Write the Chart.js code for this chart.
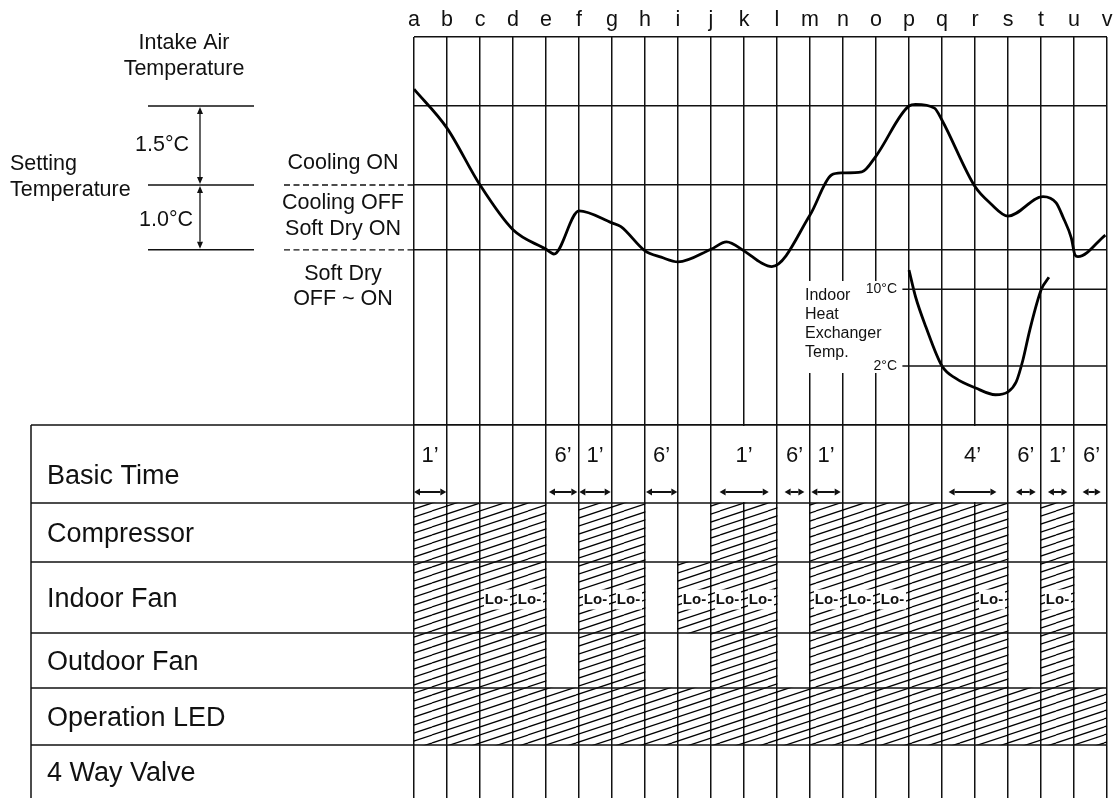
<!DOCTYPE html>
<html>
<head>
<meta charset="utf-8">
<title>Soft Dry operation timing chart</title>
<script src="https://cdn.jsdelivr.net/npm/chart.js@4.4.1/dist/chart.umd.min.js"></script>
<style>
  html, body { margin: 0; padding: 0; background: #fff; }
  #wrap { position: relative; width: 1119px; height: 798px; overflow: hidden; }
  canvas { position: absolute; left: 0; }
  #topChart { top: 0; }
  #tableChart { top: 423px; }
</style>
</head>
<body>
<div id="wrap">
  <canvas id="topChart" width="1119" height="425"></canvas>
  <canvas id="tableChart" width="1119" height="375"></canvas>
</div>
<script>
const FONT = '"Liberation Sans", Arial, Helvetica, sans-serif';
const INK = '#111';

// time marks along the top (one grid line each)
const timeMarks = ['a','b','c','d','e','f','g','h','i','j','k','l','m','n','o','p','q','r','s','t','u','v'];

// intake air temperature relative to the setting temperature
// (the source draws the 1.0°C band a bit taller than the 1.5°C one, so the lower line sits at -1.23)
const intakeX = [0, 1.0, 2.0, 3.0, 4.0, 4.24, 5.0, 6.0, 6.27, 7.0, 7.49, 8.0, 9.0, 9.47, 10.0, 10.53, 10.84,
                 12.0, 12.65, 12.96, 13.57, 14.0, 15.0, 15.2, 15.77, 16.0, 17.0, 17.47, 18.0, 19.06, 19.46,
                 19.66, 19.92, 20.03, 20.12, 20.95];
const intakeY = [1.82, 1.08, 0, -0.85, -1.22, -1.31, -0.49, -0.72, -0.79, -1.25, -1.37, -1.46, -1.22, -1.08, -1.25, -1.48, -1.55,
                 -0.57, 0.19, 0.23, 0.25, 0.55, 1.5, 1.53, 1.46, 1.23, -0.03, -0.35, -0.59, -0.22, -0.34,
                 -0.6, -1.01, -1.33, -1.36, -0.95];
const intakeLevels = [1.5, 0, -1.23];

// indoor heat exchanger temperature, °C
const hxX = [15.0, 15.2, 15.51, 16.0, 16.42, 17.02, 17.62, 18.0, 18.25, 18.45, 18.66, 19.01, 19.24];
const hxY = [12.0, 9.2, 6.1, 2.0, 0.7, -0.3, -1.0, -0.7, 0.35, 2.6, 5.75, 10.0, 11.25];
const hxLevels = [10, 2];
const hxLevelLabels = ['10°C', '2°C'];

// table rows, one value per time slot (a-b ... u-v): 0 = off, 1 = on, 2 = on at Lo- speed
const rowLabels = ['Basic Time', 'Compressor', 'Indoor Fan', 'Outdoor Fan', 'Operation LED', '4 Way Valve'];
const compressor   = [1,1,1,1,0,1,1,0,0,1,1,0,1,1,1,1,1,1,0,1,0];
const indoorFan    = [1,1,2,2,0,2,2,0,2,2,2,0,2,2,2,1,1,2,0,2,0];
const outdoorFan   = [1,1,1,1,0,1,1,0,0,1,1,0,1,1,1,1,1,1,0,1,0];
const operationLed = [1,1,1,1,1,1,1,1,1,1,1,1,1,1,1,1,1,1,1,1,1];
const fourWayValve = [0,0,0,0,0,0,0,0,0,0,0,0,0,0,0,0,0,0,0,0,0];

// basic time spans
const basicTimeFrom = [0, 4.09, 5.01, 7.03, 9.26, 11.23, 12.04, 16.2, 18.24, 19.21, 20.26];
const basicTimeTo   = [0.98, 4.95, 5.96, 7.98, 10.75, 11.83, 12.93, 17.65, 18.84, 19.8, 20.81];
const basicTimeText = ['1’', '6’', '1’', '6’', '1’', '6’', '1’', '4’', '6’', '1’', '6’'];

// layout
const ROW_HEIGHTS = [78, 59, 71, 55, 57, 53];
const rowEdges = ROW_HEIGHTS.reduce((acc, h) => { acc.push(acc[acc.length - 1] + h); return acc; }, [0]);
const HX_LINE_FROM = 14.8;

function text(ctx, str, x, y, size, align, weight) {
    ctx.font = (weight || '') + ' ' + size + 'px ' + FONT;
    ctx.textAlign = align || 'center';
    ctx.textBaseline = 'middle';
    ctx.fillText(str, x, y);
}

function hArrow(ctx, x1, x2, y) {
    const h = 6, w = 3.5;
    ctx.beginPath();
    ctx.moveTo(x1 + h, y); ctx.lineTo(x2 - h, y);
    ctx.stroke();
    ctx.beginPath();
    ctx.moveTo(x1, y); ctx.lineTo(x1 + h, y - w); ctx.lineTo(x1 + h, y + w); ctx.closePath();
    ctx.moveTo(x2, y); ctx.lineTo(x2 - h, y - w); ctx.lineTo(x2 - h, y + w); ctx.closePath();
    ctx.fill();
}

function vArrow(ctx, x, y1, y2) {
    const h = 7, w = 3;
    ctx.beginPath();
    ctx.moveTo(x, y1 + h); ctx.lineTo(x, y2 - h);
    ctx.stroke();
    ctx.beginPath();
    ctx.moveTo(x, y1); ctx.lineTo(x - w, y1 + h); ctx.lineTo(x + w, y1 + h); ctx.closePath();
    ctx.moveTo(x, y2); ctx.lineTo(x - w, y2 - h); ctx.lineTo(x + w, y2 - h); ctx.closePath();
    ctx.fill();
}

// labels, side scale and notes around the temperature graph
const topDecorations = {
    id: 'topDecorations',
    afterDatasetsDraw(chart) {
        const { ctx, chartArea, scales: { x, yT, yH } } = chart;
        ctx.save();
        ctx.fillStyle = INK;
        ctx.strokeStyle = INK;

        // time marks
        ctx.font = '21.5px ' + FONT;
        ctx.textAlign = 'center';
        ctx.textBaseline = 'alphabetic';
        timeMarks.forEach((m, i) => ctx.fillText(m, x.getPixelForValue(i), 26));

        const yUp = yT.getPixelForValue(intakeLevels[0]);
        const ySet = yT.getPixelForValue(intakeLevels[1]);
        const yLow = yT.getPixelForValue(intakeLevels[2]);

        text(ctx, 'Intake Air', 184, 43, 21.5);
        text(ctx, 'Temperature', 184, 69, 21.5);

        // side scale
        ctx.lineWidth = 1.5;
        [yUp, ySet, yLow].forEach(y => {
            ctx.beginPath(); ctx.moveTo(148, y); ctx.lineTo(254, y); ctx.stroke();
        });
        ctx.lineWidth = 1.3;
        vArrow(ctx, 200, yUp + 1, ySet - 1);
        vArrow(ctx, 200, ySet + 1, yLow - 1);
        text(ctx, '1.5°C', 189, (yUp + ySet) / 2, 21.5, 'right');
        text(ctx, '1.0°C', 193, (ySet + yLow) / 2 + 3, 21.5, 'right');
        text(ctx, 'Setting', 10, ySet - 21, 21.5, 'left');
        text(ctx, 'Temperature', 10, ySet + 5, 21.5, 'left');

        // mode zones
        ctx.lineWidth = 1.3;
        ctx.setLineDash([6, 3.5]);
        [ySet, yLow].forEach(y => {
            ctx.beginPath(); ctx.moveTo(284, y); ctx.lineTo(chartArea.left, y); ctx.stroke();
        });
        ctx.setLineDash([]);
        text(ctx, 'Cooling ON', 343, ySet - 22, 21.5);
        text(ctx, 'Cooling OFF', 343, ySet + 18, 21.5);
        text(ctx, 'Soft Dry ON', 343, ySet + 44, 21.5);
        text(ctx, 'Soft Dry', 343, yLow + 24, 21.5);
        text(ctx, 'OFF ~ ON', 343, yLow + 49, 21.5);

        // heat exchanger note on a white card that breaks the grid
        ctx.fillStyle = '#fff';
        ctx.fillRect(798, 281, 102, 92);
        ctx.fillStyle = INK;
        text(ctx, 'Indoor', 805, 296, 16, 'left');
        text(ctx, 'Heat', 805, 315, 16, 'left');
        text(ctx, 'Exchanger', 805, 334, 16, 'left');
        text(ctx, 'Temp.', 805, 353, 16, 'left');
        ctx.lineWidth = 1.5;
        hxLevels.forEach((v, i) => {
            const y = yH.getPixelForValue(v);
            ctx.beginPath(); ctx.moveTo(x.getPixelForValue(HX_LINE_FROM), y); ctx.lineTo(chartArea.right, y); ctx.stroke();
            text(ctx, hxLevelLabels[i], 897, y, 14, 'right');
        });
        ctx.restore();
    }
};

const gridStyle = { color: INK, lineWidth: 1.5, drawTicks: false };

new Chart(document.getElementById('topChart'), {
    type: 'line',
    data: {
        datasets: [{
            label: 'Intake Air Temperature',
            data: intakeX.map((v, i) => ({ x: v, y: intakeY[i] })),
            yAxisID: 'yT',
            borderColor: '#000',
            borderWidth: 2.8,
            pointRadius: 0,
            cubicInterpolationMode: 'monotone'
        }, {
            label: 'Indoor Heat Exchanger Temp.',
            data: hxX.map((v, i) => ({ x: v, y: hxY[i] })),
            yAxisID: 'yH',
            borderColor: '#000',
            borderWidth: 2.8,
            pointRadius: 0,
            cubicInterpolationMode: 'monotone'
        }]
    },
    options: {
        responsive: false,
        animation: false,
        devicePixelRatio: 1,
        layout: { padding: { left: 414, right: 12, top: 37, bottom: 0 } },
        plugins: { legend: { display: false }, tooltip: { enabled: false } },
        scales: {
            x: {
                type: 'linear', min: 0, max: timeMarks.length - 1,
                ticks: { display: false, stepSize: 1 },
                grid: gridStyle,
                border: { display: false }
            },
            yT: {
                type: 'linear', position: 'left', min: -4.557, max: 2.81,
                ticks: { display: false },
                grid: gridStyle,
                border: { display: false },
                afterBuildTicks: s => { s.ticks = [s.max, ...intakeLevels, s.min].map(v => ({ value: v })); }
            },
            yH: { type: 'linear', position: 'right', min: -4.16, max: 36.34, display: false }
        }
    },
    plugins: [topDecorations]
});

// ---- operation table ----
const tableCanvas = document.getElementById('tableChart');

// rising diagonal hatch, slope 1/3, 8px apart
function makeHatch(ctx) {
    const tile = document.createElement('canvas');
    tile.width = 48; tile.height = 16;
    const c = tile.getContext('2d');
    c.strokeStyle = '#000';
    c.lineWidth = 1.3;
    for (let k = -2; k <= 2; k++) {
        c.beginPath(); c.moveTo(0, 16 + k * 8); c.lineTo(48, k * 8); c.stroke();
    }
    return ctx.createPattern(tile, 'repeat');
}
const hatch = makeHatch(tableCanvas.getContext('2d'));

const rowStates = [compressor, indoorFan, outdoorFan, operationLed, fourWayValve];

const tableDecorations = {
    id: 'tableDecorations',
    afterDatasetsDraw(chart) {
        const { ctx, chartArea, scales: { x, y } } = chart;
        ctx.save();
        ctx.fillStyle = INK;
        ctx.strokeStyle = INK;

        const rowTop = y.getPixelForValue(rowEdges[0]);
        const rowBot = y.getPixelForValue(rowEdges[1]);

        // grid lines that a basic time arrow runs across are left out of that row
        ctx.fillStyle = '#fff';
        basicTimeFrom.forEach((from, i) => {
            for (let t = Math.ceil(from + 0.01); t < basicTimeTo[i]; t++) {
                const px = x.getPixelForValue(t);
                ctx.fillRect(px - 2, rowTop + 1, 4, rowBot - rowTop - 2);
            }
        });
        ctx.fillStyle = INK;

        // Lo- fan speed marks
        indoorFan.forEach((s, i) => {
            if (s !== 2) return;
            const l = x.getPixelForValue(i), r = x.getPixelForValue(i + 1);
            const cy = (y.getPixelForValue(rowEdges[2]) + y.getPixelForValue(rowEdges[3])) / 2 + 2;
            ctx.fillStyle = '#fff';
            ctx.fillRect(l + 4, cy - 10, r - l - 7, 20);
            ctx.fillStyle = INK;
            text(ctx, 'Lo-', (l + r) / 2, cy, 15, 'center', 'bold');
        });

        // row lines and labels
        ctx.lineWidth = 1.5;
        rowEdges.slice(0, -1).forEach(v => {
            const py = y.getPixelForValue(v);
            ctx.beginPath(); ctx.moveTo(31, py); ctx.lineTo(chartArea.right, py); ctx.stroke();
        });
        ctx.beginPath(); ctx.moveTo(31, chartArea.top); ctx.lineTo(31, chartArea.bottom + 5); ctx.stroke();

        rowLabels.forEach((lab, r) => {
            const top = y.getPixelForValue(rowEdges[r]);
            const bot = y.getPixelForValue(rowEdges[r + 1]);
            const cy = r === 0 ? top + 52 : (top + bot) / 2 + 2;
            text(ctx, lab, 47, cy, 27, 'left');
        });

        // basic time spans
        ctx.lineWidth = 2;
        basicTimeFrom.forEach((from, i) => {
            const x1 = x.getPixelForValue(from), x2 = x.getPixelForValue(basicTimeTo[i]);
            hArrow(ctx, x1, x2, rowTop + 67);
            text(ctx, basicTimeText[i], (x1 + x2) / 2, rowTop + 31, 22);
        });
        ctx.restore();
    }
};

new Chart(tableCanvas, {
    type: 'bar',
    data: {
        datasets: rowStates.map((states, r) => ({
            label: rowLabels[r + 1],
            data: states.map((s, i) => s ? { x: i + 0.5, y: [rowEdges[r + 1], rowEdges[r + 2]] } : null).filter(Boolean),
            backgroundColor: hatch,
            borderWidth: 0,
            grouped: false,
            barPercentage: 1,
            categoryPercentage: 1
        }))
    },
    options: {
        responsive: false,
        animation: false,
        devicePixelRatio: 1,
        layout: { padding: { left: 414, right: 12, top: 2, bottom: 0 } },
        plugins: { legend: { display: false }, tooltip: { enabled: false } },
        scales: {
            x: {
                type: 'linear', min: 0, max: timeMarks.length - 1, offset: false,
                ticks: { display: false, stepSize: 1 },
                grid: { ...gridStyle, offset: false },
                border: { display: false }
            },
            y: {
                type: 'linear', min: 0, max: rowEdges[rowEdges.length - 1], reverse: true,
                display: false
            }
        }
    },
    plugins: [tableDecorations]
});
</script>
</body>
</html>
